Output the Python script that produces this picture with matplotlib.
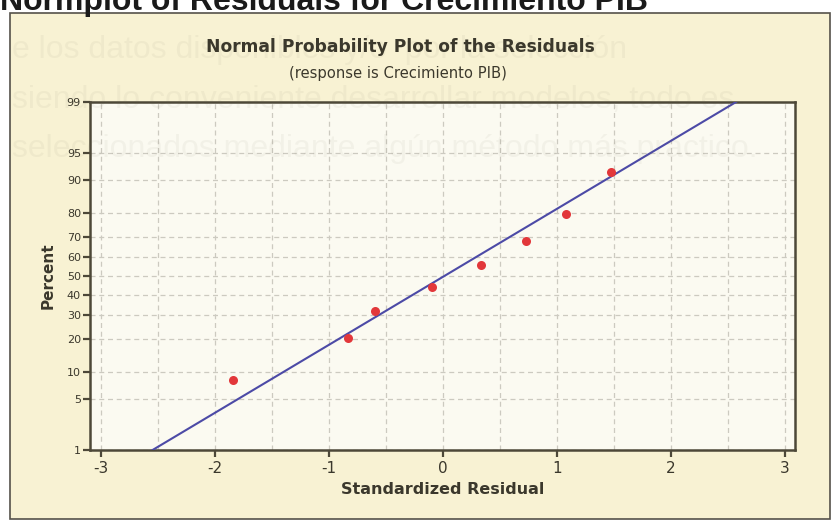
import matplotlib.pyplot as plt
from matplotlib.patches import Rectangle
from statistics import NormalDist

# Standardized residuals and their plotting percentages (median ranks)
residuals = [-1.84, -0.83, -0.60, -0.10, 0.33, 0.73, 1.08, 1.47]
percents = [8.3, 20.2, 32.1, 44.0, 56.0, 67.9, 79.8, 91.7]

# Fitted normal reference line
fit_mean = 0.012
fit_sd = 1.10

y_ticks = [1, 5, 10, 20, 30, 40, 50, 60, 70, 80, 90, 95, 99]
x_ticks = [-3, -2, -1, 0, 1, 2, 3]
x_grid = [-3, -2.5, -2, -1.5, -1, -0.5, 0, 0.5, 1, 1.5, 2, 2.5, 3]

W, H = 834, 521
nd = NormalDist()

def z(p):
    return nd.inv_cdf(p / 100.0)

fig = plt.figure(figsize=(W / 100, H / 100), dpi=100)
fig.patch.set_facecolor("white")

ink = "#3b382c"
frame_col = "#4d4838"

# yellow panel behind the chart
panel = Rectangle((10 / W, 2 / H), 820 / W, 506 / H, transform=fig.transFigure,
                  facecolor="#f8f2d3", edgecolor="#55524a", linewidth=1.2, zorder=-5)
fig.patches.append(panel)

# page heading above the panel
fig.text(0 / W, 1 - 10 / H, "Normplot of Residuals for Crecimiento PIB",
         family="Liberation Sans", weight="bold", fontsize=23, color="#1a1a1a",
         ha="left", va="baseline")

# page text showing faintly through the panel
faint = dict(family="Liberation Sans", fontsize=23, color="#6a6650", alpha=0.06,
             ha="left", va="baseline", zorder=10)
fig.text(12 / W, 1 - 58 / H, "e los datos disponibles y/o  por la selecci\u00f3n", **faint)
fig.text(12 / W, 1 - 108 / H, "siendo lo conveniente desarrollar modelos, todo es", **faint)
fig.text(12 / W, 1 - 157 / H, "seleccionados mediante alg\u00fan m\u00e9todo m\u00e1s pr\u00e1ctico.", **faint)

ax = fig.add_axes([90 / W, 1 - 450 / H, 705 / W, 348 / H])
ax.set_facecolor("#fbfaf1")

ax.set_xlim(-3.096, 3.088)
ax.set_ylim(z(1), z(99))

for gx in x_grid:
    ax.axvline(gx, color="#cccac0", linewidth=0.9, linestyle=(0, (4, 3)), zorder=1)
for p in y_ticks:
    ax.axhline(z(p), color="#cccac0", linewidth=0.9, linestyle=(0, (4, 3)), zorder=1)

# reference line across the full percent range
zl = [z(1), z(99)]
ax.plot([fit_mean + fit_sd * v for v in zl], zl, color="#4c4aa6", linewidth=1.5, zorder=3)

ax.plot(residuals, [z(p) for p in percents], "o", color="#e2373a", markersize=6.5,
        markeredgewidth=0, zorder=4)

ax.set_xticks(x_ticks)
ax.set_xticklabels([str(v) for v in x_ticks], family="DejaVu Sans", fontsize=11, color=ink)
ax.set_yticks([z(p) for p in y_ticks])
ax.set_yticklabels([str(p) for p in y_ticks], family="DejaVu Sans", fontsize=8, color=ink)
ax.tick_params(axis="both", direction="out", length=5, width=1.6, color=frame_col)
ax.tick_params(axis="x", pad=3)
ax.tick_params(axis="y", pad=1.5)
for s in ax.spines.values():
    s.set_color(frame_col)
    s.set_linewidth(1.8)

ax.set_xlabel("Standardized Residual", family="DejaVu Sans", weight="bold",
              fontsize=11.5, color=ink, labelpad=4)
ax.set_ylabel("Percent", family="DejaVu Sans", weight="bold", fontsize=11,
              color=ink, labelpad=8)

fig.text(400 / W, 1 - 52 / H, "Normal Probability Plot of the Residuals",
         family="DejaVu Sans", weight="bold", fontsize=12.3, color=ink,
         ha="center", va="baseline", zorder=12)
fig.text(398 / W, 1 - 78 / H, "(response is Crecimiento PIB)", family="DejaVu Sans",
         fontsize=10.6, color=ink, ha="center", va="baseline", zorder=12)

fig.savefig("out.png", dpi=100)
